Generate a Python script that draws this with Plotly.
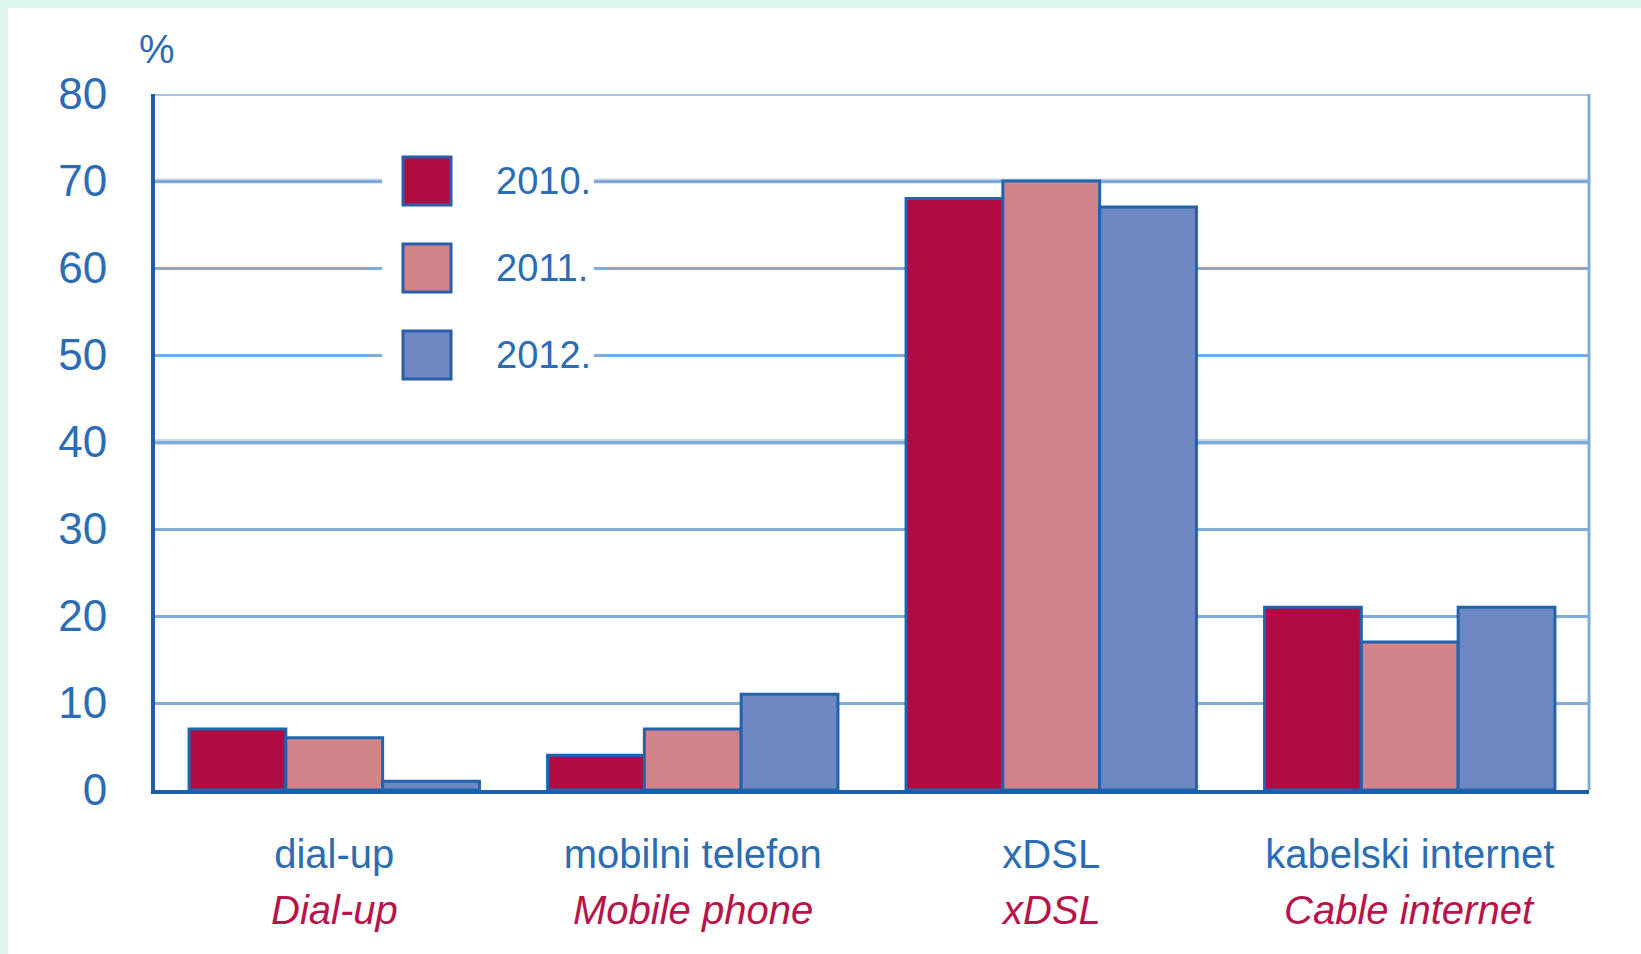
import plotly.graph_objects as go

categories = ["dial-up", "mobilni telefon", "xDSL", "kabelski internet"]
categories_en = ["Dial-up", "Mobile phone", "xDSL", "Cable internet"]
years = ["2010.", "2011.", "2012."]
values_2010 = [7, 4, 68, 21]
values_2011 = [6, 7, 70, 17]
values_2012 = [1, 11, 67, 21]
y_ticks = [0, 10, 20, 30, 40, 50, 60, 70, 80]
legend_levels = [70, 60, 50]

colors = ["#b00c42", "#d2848b", "#6d88c3"]
edge = "#2163ac"
text_blue = "#2b6cb3"
text_red = "#b8144a"
font_family = "Liberation Sans Narrow, Arial Narrow, Liberation Sans, sans-serif"

# page offset (html body margin) and plot area in page pixels
OFF = 8
PL, PT, PR, PB = 155, 94, 1589, 790
PW, PH = PR - PL, PB - PT
W, H = 1641 - OFF, 954 - OFF


def xp(px):
    return (px - PL) / PW


def yp(py):
    return (PB - py) / PH


fig = go.Figure()
for name, vals, col in zip(years, [values_2010, values_2011, values_2012], colors):
    fig.add_trace(go.Bar(
        x=categories, y=vals, name=name,
        marker=dict(color=col, line=dict(color=edge, width=3)),
        showlegend=False,
    ))

fig.update_layout(
    width=W, height=H,
    margin=dict(l=PL - OFF, r=1641 - PR, t=PT - OFF, b=954 - PB),
    paper_bgcolor="white", plot_bgcolor="white",
    barmode="group", bargap=0.19, bargroupgap=0,
    font=dict(family=font_family, size=40, color=text_blue),
    xaxis=dict(
        type="category", range=[-0.5, 3.5],
        showgrid=False, showline=True, linecolor="#1a5fa8", linewidth=4,
        ticks="", tickfont=dict(size=40, color=text_blue),
        ticklabelstandoff=26,
    ),
    yaxis=dict(
        range=[0, 80], tickvals=y_ticks,
        showgrid=True, gridcolor="#7fabd6", gridwidth=3,
        showline=True, linecolor="#1a5fa8", linewidth=4,
        zeroline=False, ticks="",
        tickfont=dict(size=44, color=text_blue),
        ticklabelstandoff=35,
    ),
)

# lighter emphasised grid lines (40, 70, 80) and right border
for lvl, col, w in [(40, "#c3d8ec", 6), (70, "#c3d8ec", 5), (80, "#a3c3e1", 4)]:
    fig.add_shape(type="line", xref="paper", yref="y", x0=0, x1=1, y0=lvl, y1=lvl,
                  line=dict(color=col, width=w), layer="below")
fig.add_shape(type="line", xref="paper", yref="paper", x0=1, x1=1, y0=0, y1=1,
              line=dict(color="#7fabd6", width=3), layer="below")

# manual legend
fig.add_shape(type="rect", xref="paper", yref="y", x0=xp(382), x1=xp(594),
              y0=46.8, y1=73.5, fillcolor="white", line=dict(width=0), layer="above")
for name, lvl, col in zip(years, legend_levels, colors):
    fig.add_shape(type="rect", xref="paper", yref="y",
                  x0=xp(403), x1=xp(451), y0=lvl - 2.75, y1=lvl + 2.75,
                  fillcolor=col, line=dict(color="#2a5ea8", width=3), layer="above")
    fig.add_annotation(x=xp(494), xref="paper", y=lvl, yref="y",
                       text=name, showarrow=False, xanchor="left", yanchor="middle",
                       font=dict(size=38, color=text_blue, family=font_family))

# English italic labels
for cat, en in zip(categories, categories_en):
    fig.add_annotation(x=cat, xref="x", y=yp(910), yref="paper",
                       text="<i>" + en + "</i>", showarrow=False, yanchor="middle",
                       font=dict(size=40, color=text_red, family=font_family))

fig.add_annotation(x=xp(157), xref="paper", y=yp(49), yref="paper",
                   text="%", showarrow=False, xanchor="center", yanchor="middle",
                   font=dict(size=40, color=text_blue, family=font_family))

fig.write_html(
    "out.html",
    post_script="document.body.style.backgroundColor='#def5f0';"
                "document.body.style.margin='8px 0 0 8px';"
                "document.body.style.overflow='hidden';",
)
